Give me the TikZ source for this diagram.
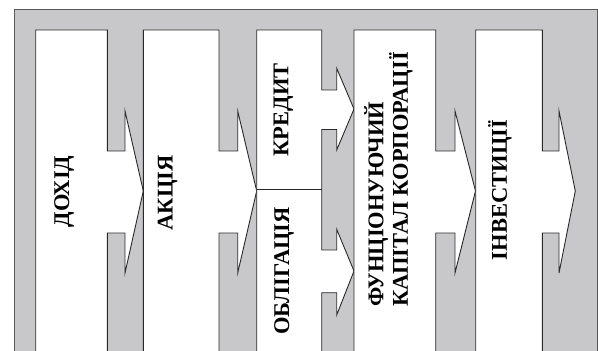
\documentclass[tikz,border=0pt]{standalone}
\usepackage{fontspec}
\setmainfont{Liberation Serif}
\definecolor{bggray}{RGB}{200,200,202}
\definecolor{edge}{RGB}{40,40,40}
\begin{document}
\begin{tikzpicture}[x=1pt,y=-1pt,
  panel/.style={fill=white, draw=edge, line width=0.9pt, line join=miter},
  lbl/.style={font=\fontsize{22.5}{21.7}\selectfont\bfseries, rotate=90, inner sep=0pt, align=left},
  divider/.style={draw=edge, line width=0.9pt}]
\useasboundingbox (0,0) rectangle (598,351);
\clip (0,0) rectangle (598,351);
% gray background panel
\filldraw[fill=bggray, draw=black!65, line width=1pt] (14,9) rectangle (597,370);
% shape 1
\path[panel] (35.7,370) -- (35.7,30) -- (107.3,30) -- (107.3,151) -- (125,151) -- (125,111)
  -- (143.3,191) -- (125,273) -- (125,233) -- (107.3,233) -- (107.3,370);
% shape 2
\path[panel] (143.3,370) -- (143.3,30) -- (219,30) -- (219,151) -- (237.7,151) -- (237.7,111)
  -- (256.7,191) -- (237.7,273) -- (237.7,233) -- (219,233) -- (219,370);
% shape 3
\path[panel] (256.7,370) -- (256.7,30) -- (321.7,30) -- (321.7,90) -- (336.7,90) -- (336.7,68.3)
  -- (354,109) -- (336.7,150) -- (336.7,129.5) -- (321.7,129.5) -- (321.7,250) -- (336.7,250)
  -- (336.7,229.3) -- (354,271) -- (336.7,315) -- (336.7,292.7) -- (321.7,292.7) -- (321.7,370);
\coordinate (dl) at (256.7,189.3);
\coordinate (dr) at (321.7,189.3);
\draw[divider] (dl) -- (dr);
% shape 4
\path[panel] (354,370) -- (354,30) -- (435.7,30) -- (435.7,151) -- (455,151) -- (455,111)
  -- (475.5,191) -- (455,273) -- (455,233) -- (435.7,233) -- (435.7,370);
% shape 5
\path[panel] (475.7,370) -- (475.7,30) -- (542.3,30) -- (542.3,151) -- (559,151) -- (559,111)
  -- (575.3,191) -- (559,273) -- (559,233) -- (542.3,233) -- (542.3,370);
% labels
\node[lbl] (dokhid) at (64,191.5) {ДОХІД};
\node[lbl] (aktsiia) at (167.5,193) {АКЦІЯ};
\node[lbl] (kredyt) at (283.5,110) {КРЕДИТ};
\node[lbl] (oblihatsiia) at (284,271) {ОБЛІГАЦІЯ};
\node[lbl] (kapital) at (388.5,179.5) {ФУНЦІОНУЮЧИЙ\\КАПІТАЛ КОРПОРАЦІЇ};
\node[lbl] (investytsii) at (500,190) {ІНВЕСТИЦІЇ};
\end{tikzpicture}
\end{document}
